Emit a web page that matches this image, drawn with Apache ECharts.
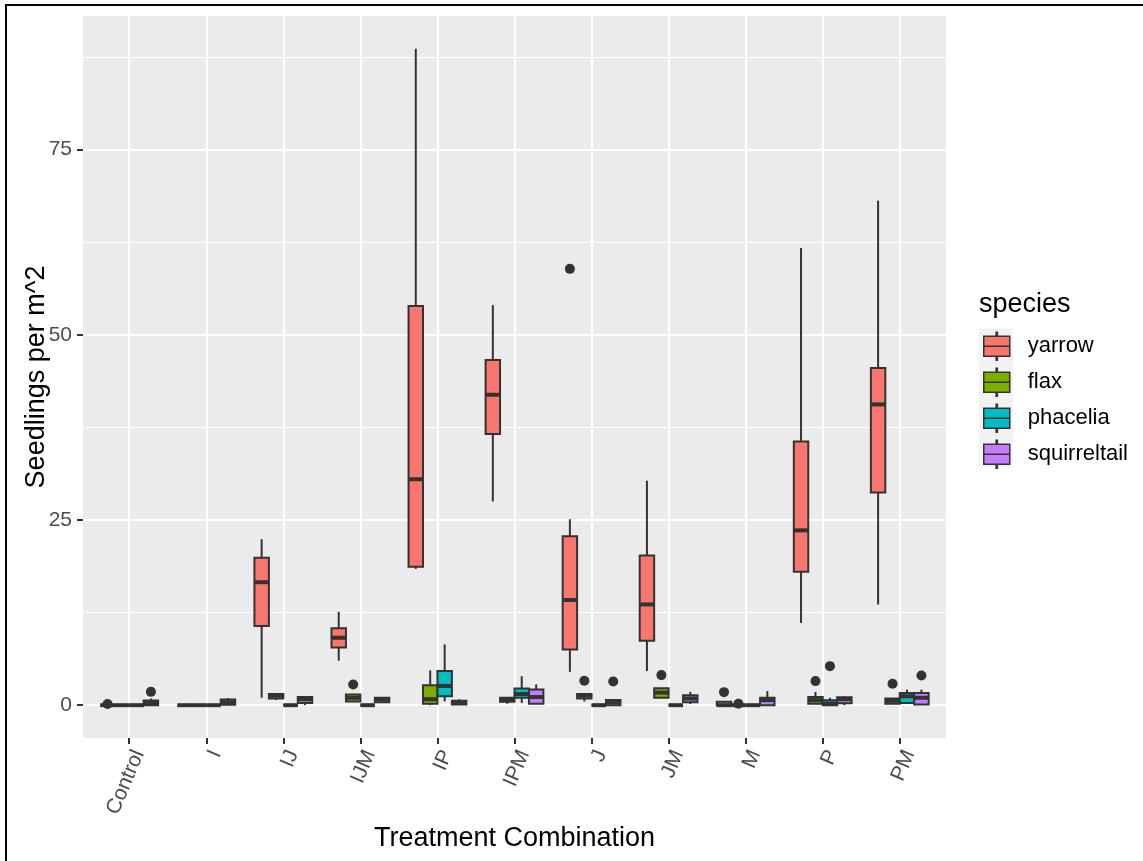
<!DOCTYPE html>
<html style="height: 100%">
<head>
    <meta charset="utf-8">
</head>
<body style="height: 100%; margin: 0; background: #fff">
<div id="main" style="width: 1143px; height: 861px"></div>

<script type="text/javascript" src="https://cdn.jsdelivr.net/npm/echarts@6/dist/echarts.min.js"></script>
<script type="text/javascript">
    var treatments = ['Control', 'I', 'IJ', 'IJM', 'IP', 'IPM', 'J', 'JM', 'M', 'P', 'PM'];
    var species = ['yarrow', 'flax', 'phacelia', 'squirreltail'];
    var colors = ['#F8766D', '#7CAE00', '#00BFC4', '#C77CFF'];
    var yTicks = [0, 25, 50, 75];

    // [min, Q1, median, Q3, max] per treatment
    var yarrow = [
        [0, 0, 0, 0, 0], [0, 0, 0, 0, 0], [1.0, 10.7, 16.6, 19.9, 22.4], [6.0, 7.8, 9.1, 10.4, 12.6],
        [18.4, 18.7, 30.5, 53.9, 88.6], [27.5, 36.6, 41.9, 46.6, 54.0], [4.5, 7.5, 14.2, 22.8, 25.1],
        [4.6, 8.7, 13.6, 20.2, 30.3], [0, 0, 0, 0.45, 0.45], [11.1, 18.0, 23.6, 35.6, 61.7],
        [13.6, 28.7, 40.6, 45.5, 68.1]
    ];
    var flax = [
        [0, 0, 0, 0, 0], [0, 0, 0, 0, 0], [0.7, 0.9, 1.3, 1.5, 1.5], [0.45, 0.5, 1.0, 1.45, 1.45],
        [0, 0.2, 0.8, 2.7, 4.7], [0.2, 0.45, 0.8, 1.0, 1.0], [0.5, 0.9, 1.3, 1.5, 1.5],
        [1.0, 1.0, 1.7, 2.3, 2.3], [0, 0, 0, 0, 0], [0.2, 0.2, 0.68, 1.1, 1.8],
        [0.2, 0.2, 0.6, 0.9, 0.9]
    ];
    var phacelia = [
        [0, 0, 0, 0, 0], [0, 0, 0, 0, 0], [0, 0, 0, 0, 0], [0, 0, 0, 0, 0],
        [0.5, 1.2, 2.6, 4.6, 8.2], [0.3, 1.0, 1.5, 2.26, 3.9], [0, 0, 0, 0, 0],
        [0, 0, 0, 0, 0], [0, 0, 0, 0, 0], [0, 0, 0.2, 0.68, 1.0],
        [0.3, 0.3, 1.2, 1.66, 2.1]
    ];
    var squirreltail = [
        [0, 0, 0.3, 0.64, 0.9], [0, 0.05, 0.4, 0.77, 0.95], [0, 0.3, 0.8, 1.1, 1.1], [0.4, 0.4, 0.8, 1.0, 1.0],
        [0.1, 0.1, 0.4, 0.6, 0.8], [0.2, 0.2, 1.1, 2.1, 2.8], [0, 0, 0.4, 0.7, 0.7],
        [0.15, 0.4, 0.9, 1.35, 1.8], [0, 0, 0.68, 1.0, 1.9], [0, 0.27, 0.8, 1.08, 1.2],
        [0.1, 0.1, 1.0, 1.66, 2.1]
    ];

    // outliers as [treatment index, value]
    var yarrowOut = [[0, 0.15], [6, 58.9], [8, 1.76]];
    var flaxOut = [[3, 2.8], [6, 3.3], [7, 4.06], [8, 0.2], [9, 3.25], [10, 2.9]];
    var phaceliaOut = [[9, 5.27]];
    var squirreltailOut = [[0, 1.8], [6, 3.2], [10, 4.0]];

    var boxes = [yarrow, flax, phacelia, squirreltail];
    var outs = [yarrowOut, flaxOut, phaceliaOut, squirreltailOut];

    var EDGE = '#333333';
    var DODGE = 0.75;
    var FONT = '"Liberation Sans", Arial, sans-serif';

    // ggplot-like limits: data range expanded by 5%
    var allVals = [];
    boxes.forEach(function (s) { s.forEach(function (b) { allVals = allVals.concat(b); }); });
    outs.forEach(function (s) { s.forEach(function (o) { allVals.push(o[1]); }); });
    var dMax = Math.max.apply(null, allVals), dMin = Math.min.apply(null, allVals);
    var Y_MIN = dMin - 0.05 * (dMax - dMin);
    var Y_MAX = dMax + 0.05 * (dMax - dMin);

    function offsetX(api, i, k) {
        var w = api.size([1, 0])[0] * DODGE / species.length;
        return { x: api.coord([i, 0])[0] + (k - (species.length - 1) / 2) * w, w: w };
    }

    function boxRenderer(k) {
        return function (params, api) {
            var i = api.value(0);
            var p = offsetX(api, i, k);
            var x = p.x, w = p.w;
            var yMin = api.coord([i, api.value(1)])[1];
            var yQ1 = api.coord([i, api.value(2)])[1];
            var yMed = api.coord([i, api.value(3)])[1];
            var yQ3 = api.coord([i, api.value(4)])[1];
            var yMax = api.coord([i, api.value(5)])[1];
            var line = { stroke: EDGE, lineWidth: 2 };
            return {
                type: 'group',
                children: [
                    { type: 'line', shape: { x1: x, y1: yQ3, x2: x, y2: yMax }, style: line },
                    { type: 'line', shape: { x1: x, y1: yQ1, x2: x, y2: yMin }, style: line },
                    { type: 'rect', shape: { x: x - w / 2, y: yQ3, width: w, height: yQ1 - yQ3 },
                        style: { fill: colors[k], stroke: EDGE, lineWidth: 2 } },
                    { type: 'line', shape: { x1: x - w / 2, y1: yMed, x2: x + w / 2, y2: yMed },
                        style: { stroke: EDGE, lineWidth: 4 } }
                ]
            };
        };
    }

    var series = species.map(function (name, k) {
        return {
            name: name,
            type: 'custom',
            renderItem: boxRenderer(k),
            itemStyle: { color: colors[k] },
            encode: { x: 0, y: [1, 2, 3, 4, 5] },
            data: boxes[k].map(function (b, i) { return [i].concat(b); }),
            z: 3
        };
    });

    var outData = [];
    outs.forEach(function (s, k) { s.forEach(function (o) { outData.push([o[0], k, o[1]]); }); });
    series.unshift({
        name: 'outliers',
        type: 'custom',
        renderItem: function (params, api) {
            var i = api.value(0);
            var p = offsetX(api, i, api.value(1));
            return {
                type: 'circle',
                shape: { cx: p.x, cy: api.coord([i, api.value(2)])[1], r: 5 },
                style: { fill: EDGE }
            };
        },
        encode: { x: 0, y: 2 },
        data: outData,
        z: 2
    });

    var keyIcon = 'path://M2 4H28V14H2Z M2 14H28V24H2Z M14.4 0H15.6V4H14.4Z M14.4 24H15.6V28H14.4Z';
    var xIdx = treatments.map(function (t, i) { return i; });

    var chart = echarts.init(document.getElementById('main'));
    chart.setOption({
        animation: false,
        backgroundColor: '#fff',
        textStyle: { fontFamily: FONT },
        title: {
            text: 'species', left: 979, top: 291, padding: 0,
            textStyle: { fontSize: 27, fontWeight: 'normal', color: '#000', fontFamily: FONT }
        },
        legend: {
            data: species,
            orient: 'vertical',
            left: 983, top: 331.5, padding: 0,
            itemWidth: 26, itemHeight: 28, itemGap: 6.5,
            icon: keyIcon,
            itemStyle: { borderColor: EDGE, borderWidth: 1.5 },
            textStyle: { fontSize: 22, color: '#000', fontFamily: FONT, padding: [0, 0, 0, 13] },
            selectedMode: false
        },
        graphic: [
            { type: 'rect', shape: { x: 979, y: 328.5, width: 34, height: 138 }, style: { fill: '#F2F2F2' }, z: -1 },
            { type: 'rect', shape: { x: 6, y: 5, width: 1160, height: 900 }, style: { fill: 'none', stroke: '#000', lineWidth: 2 }, z: 100 }
        ],
        grid: {
            left: 83, top: 16, right: 197, bottom: 123,
            show: true, backgroundColor: '#EBEBEB', borderWidth: 0
        },
        xAxis: {
            type: 'value',
            min: -0.6, max: treatments.length - 0.4,
            minInterval: 1, maxInterval: 1,
            name: 'Treatment Combination', nameLocation: 'middle', nameGap: 87,
            nameTextStyle: { fontSize: 27, color: '#000', fontFamily: FONT },
            axisLine: { show: false, onZero: false },
            axisTick: { show: true, length: 6, lineStyle: { color: EDGE, width: 2 }, customValues: xIdx },
            axisLabel: {
                customValues: xIdx,
                formatter: function (v) { return treatments[v] || ''; },
                rotate: 67, margin: 9, verticalAlign: 'top',
                fontSize: 21, color: '#4D4D4D', fontFamily: FONT
            },
            splitLine: { show: true, lineStyle: { color: '#fff', width: 2 } }
        },
        yAxis: {
            type: 'value',
            min: Y_MIN, max: Y_MAX,
            minInterval: 25, maxInterval: 25,
            name: 'Seedlings per m^2', nameLocation: 'middle', nameGap: 33, nameMoveOverlap: false,
            nameTextStyle: { fontSize: 27, color: '#000', fontFamily: FONT },
            axisLine: { show: false, onZero: false },
            axisTick: { show: true, length: 6, lineStyle: { color: EDGE, width: 2 }, customValues: yTicks },
            axisLabel: {
                customValues: yTicks,
                formatter: function (v) { return yTicks.indexOf(v) >= 0 ? String(v) : ''; },
                margin: 11, fontSize: 21, color: '#4D4D4D', fontFamily: FONT
            },
            splitLine: { show: true, lineStyle: { color: '#fff', width: 2 } },
            minorTick: { show: false, splitNumber: 2 },
            minorSplitLine: { show: true, lineStyle: { color: '#fff', width: 1 } }
        },
        series: series
    });
</script>
</body>
</html>
